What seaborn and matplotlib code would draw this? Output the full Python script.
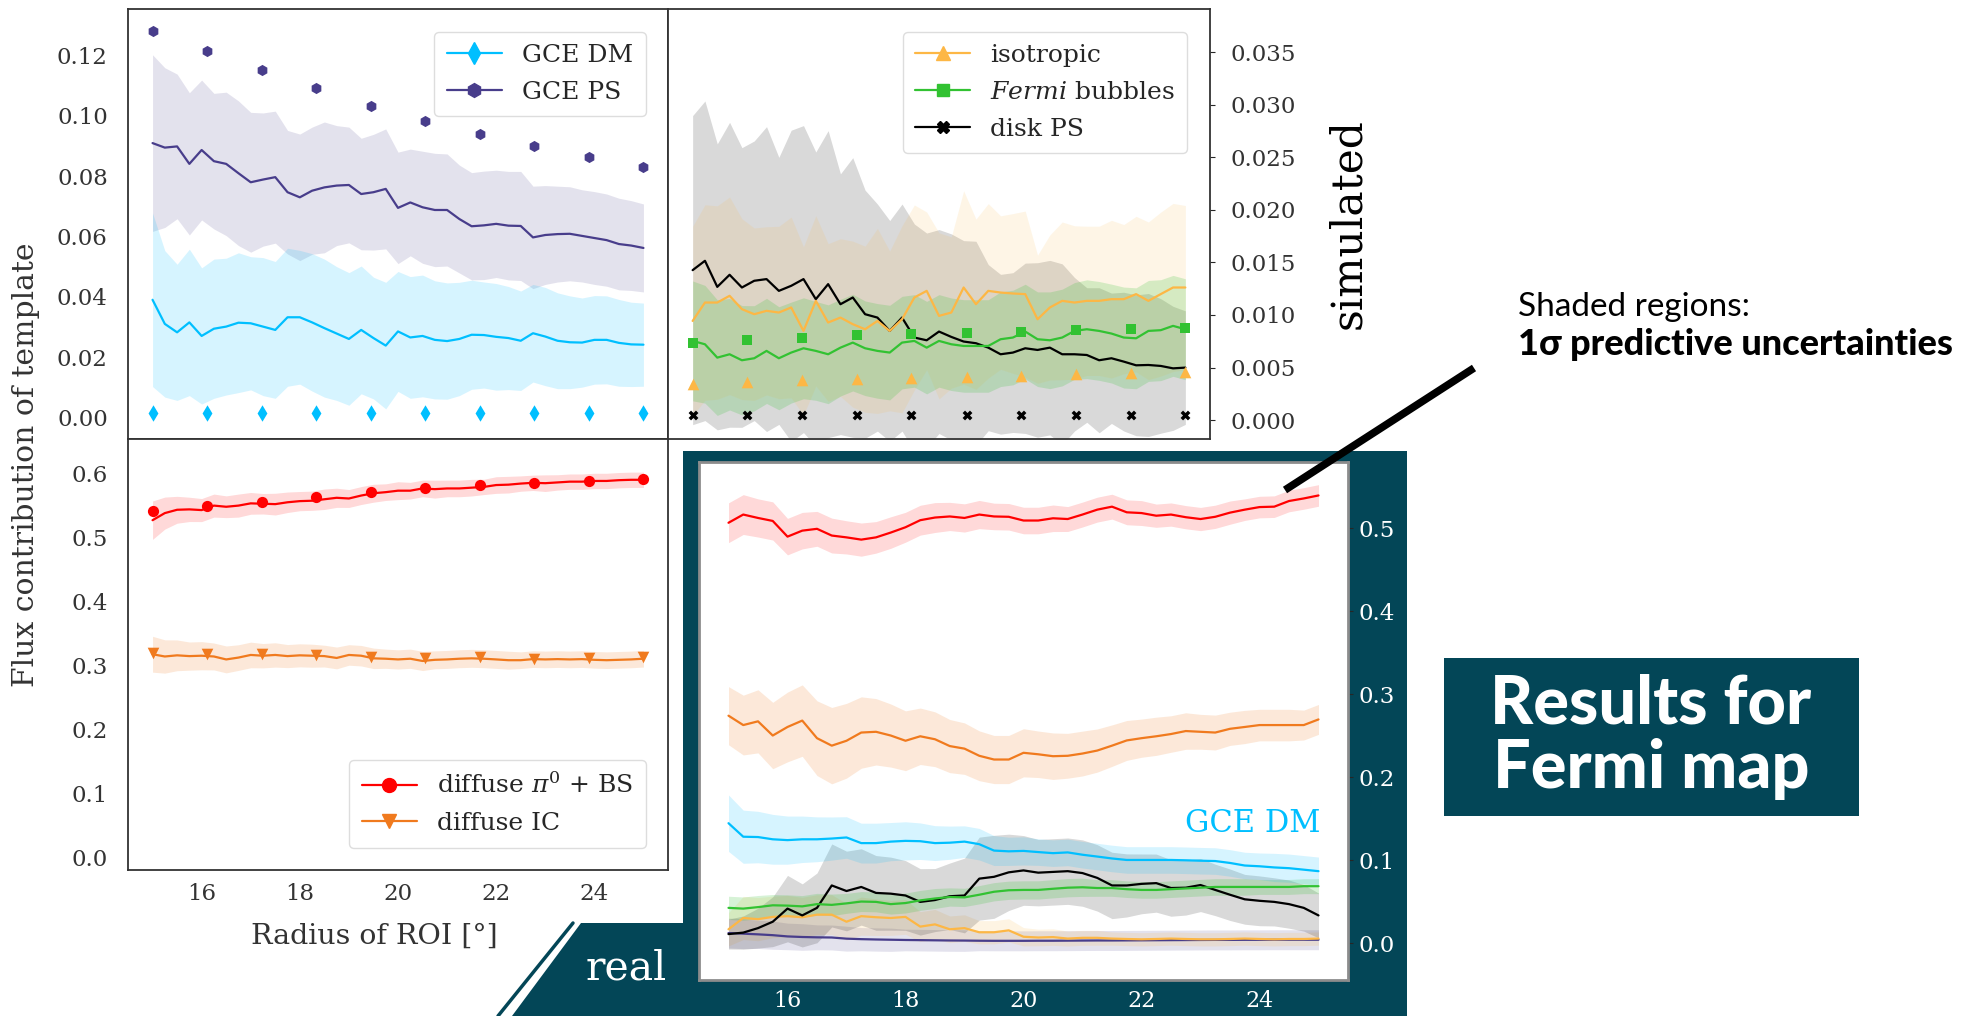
import matplotlib
matplotlib.use("Agg")
import matplotlib.pyplot as plt
import numpy as np
import seaborn as sns
from matplotlib.lines import Line2D
from matplotlib.patches import Polygon, Rectangle
from matplotlib.ticker import FormatStrFormatter

# ---------------------------------------------------------------- data
radius = [15.0, 15.25, 15.5, 15.75, 16.0, 16.25, 16.5, 16.75, 17.0, 17.25,
          17.5, 17.75, 18.0, 18.25, 18.5, 18.75, 19.0, 19.25, 19.5, 19.75,
          20.0, 20.25, 20.5, 20.75, 21.0, 21.25, 21.5, 21.75, 22.0, 22.25,
          22.5, 22.75, 23.0, 23.25, 23.5, 23.75, 24.0, 24.25, 24.5, 24.75, 25.0]
radius_true = [15.0, 16.11, 17.22, 18.33, 19.44, 20.56, 21.67, 22.78, 23.89, 25.0]

# simulated map: true values (markers)
true_dm = [0.0014, 0.0014, 0.0014, 0.0014, 0.0014, 0.0014, 0.0014, 0.0014, 0.0014, 0.0014]
true_ps = [0.1282, 0.1217, 0.1153, 0.1094, 0.1033, 0.0982, 0.0939, 0.0900, 0.0865, 0.0831]
true_iso = [0.00346, 0.00365, 0.00381, 0.00391, 0.00403, 0.00413, 0.00422, 0.00435, 0.00445, 0.00457]
true_fb = [0.00731, 0.00759, 0.00785, 0.0081, 0.00823, 0.00832, 0.00842, 0.00858, 0.0087, 0.0088]
true_disk = [0.00044, 0.00044, 0.00044, 0.00044, 0.00044, 0.00044, 0.00044, 0.00044, 0.00044, 0.00044]
true_pi0 = [0.541, 0.549, 0.555, 0.563, 0.572, 0.578, 0.582, 0.586, 0.589, 0.591]
true_ic = [0.320, 0.319, 0.318, 0.316, 0.313, 0.312, 0.313, 0.311, 0.312, 0.313]

# simulated map: predictions (mean, 1 sigma)
sim_dm_mean = [0.0390, 0.0310, 0.0282, 0.0315, 0.0270, 0.0294, 0.0301, 0.0314, 0.0312, 0.0301,
               0.0290, 0.0332, 0.0332, 0.0315, 0.0296, 0.0278, 0.0260, 0.0290, 0.0263, 0.0238,
               0.0285, 0.0265, 0.0270, 0.0257, 0.0253, 0.0260, 0.0274, 0.0273, 0.0267, 0.0263,
               0.0254, 0.0279, 0.0268, 0.0254, 0.0249, 0.0248, 0.0257, 0.0257, 0.0247, 0.0242, 0.0241]
sim_dm_sd = [0.0288, 0.0243, 0.0226, 0.0243, 0.0226, 0.0231, 0.0227, 0.0232, 0.0221, 0.0229,
             0.0227, 0.0229, 0.0222, 0.0228, 0.0229, 0.0222, 0.0220, 0.0212, 0.0202, 0.0210,
             0.0199, 0.0202, 0.0202, 0.0196, 0.0193, 0.0188, 0.0181, 0.0176, 0.0177, 0.0171,
             0.0165, 0.0162, 0.0163, 0.0159, 0.0154, 0.0148, 0.0147, 0.0146, 0.0144, 0.0140, 0.0138]
sim_ps_mean = [0.0910, 0.0895, 0.0899, 0.0841, 0.0887, 0.0850, 0.0841, 0.0810, 0.0780, 0.0789,
               0.0797, 0.0747, 0.0730, 0.0752, 0.0763, 0.0769, 0.0771, 0.0741, 0.0747, 0.0758,
               0.0695, 0.0713, 0.0697, 0.0688, 0.0688, 0.0658, 0.0634, 0.0637, 0.0642, 0.0636,
               0.0635, 0.0597, 0.0605, 0.0608, 0.0609, 0.0602, 0.0595, 0.0588, 0.0575, 0.0570, 0.0562]
sim_ps_sd = [0.0293, 0.0265, 0.0240, 0.0236, 0.0232, 0.0225, 0.0238, 0.0240, 0.0232, 0.0221,
             0.0219, 0.0205, 0.0210, 0.0211, 0.0217, 0.0199, 0.0192, 0.0185, 0.0192, 0.0199,
             0.0185, 0.0177, 0.0186, 0.0188, 0.0186, 0.0179, 0.0178, 0.0180, 0.0178, 0.0180,
             0.0181, 0.0170, 0.0164, 0.0159, 0.0156, 0.0153, 0.0154, 0.0153, 0.0152, 0.0149, 0.0146]
sim_iso_mean = [0.00943, 0.01118, 0.01118, 0.01182, 0.01055, 0.01007, 0.01039, 0.01023, 0.01071, 0.00848,
                0.01134, 0.00928, 0.00975, 0.00912, 0.00864, 0.00943, 0.00848, 0.00959, 0.01166, 0.01229,
                0.00991, 0.01023, 0.01261, 0.01102, 0.01229, 0.01213, 0.01204, 0.01198, 0.00959, 0.01071,
                0.01134, 0.01118, 0.01134, 0.01134, 0.01150, 0.01150, 0.01198, 0.01134, 0.01198, 0.01261, 0.01261]
sim_iso_sd = [0.0090, 0.0093, 0.0092, 0.0094, 0.0086, 0.0082, 0.0080, 0.0082, 0.0086, 0.0080,
              0.0081, 0.0075, 0.0075, 0.0079, 0.0079, 0.0088, 0.0076, 0.0089, 0.0088, 0.0075,
              0.0079, 0.0072, 0.0092, 0.0081, 0.0083, 0.0073, 0.0076, 0.0079, 0.0061, 0.0069,
              0.0075, 0.0073, 0.0071, 0.0071, 0.0075, 0.0071, 0.0074, 0.0075, 0.0078, 0.0080, 0.0078]
sim_fb_mean = [0.00753, 0.00721, 0.00594, 0.00626, 0.00569, 0.00588, 0.00658, 0.00588, 0.00642, 0.00683,
               0.00658, 0.00626, 0.00689, 0.00737, 0.00683, 0.00658, 0.00642, 0.00737, 0.00753, 0.00689,
               0.00753, 0.00721, 0.00705, 0.00705, 0.00705, 0.00769, 0.00785, 0.00842, 0.00769, 0.00759,
               0.00785, 0.00848, 0.00864, 0.00848, 0.00823, 0.00785, 0.00778, 0.00848, 0.00855, 0.00896, 0.00864]
sim_fb_sd = [0.0057, 0.0056, 0.0055, 0.0053, 0.0052, 0.0050, 0.0050, 0.0049, 0.0048, 0.0048,
             0.0047, 0.0047, 0.0046, 0.0046, 0.0045, 0.0045, 0.0045, 0.0044, 0.0044, 0.0044,
             0.0044, 0.0044, 0.0044, 0.0044, 0.0044, 0.0045, 0.0045, 0.0045, 0.0045, 0.0046,
             0.0046, 0.0046, 0.0047, 0.0047, 0.0047, 0.0048, 0.0048, 0.0048, 0.0048, 0.0048, 0.0048]
sim_disk_mean = [0.01426, 0.01515, 0.01267, 0.01382, 0.01261, 0.01325, 0.01341, 0.01229, 0.01277, 0.01341,
                 0.01150, 0.01293, 0.01102, 0.01166, 0.01007, 0.00975, 0.00848, 0.00975, 0.00785, 0.00759,
                 0.00842, 0.00791, 0.00747, 0.00731, 0.00689, 0.00626, 0.00642, 0.00683, 0.00667, 0.00689,
                 0.00626, 0.00626, 0.00619, 0.00569, 0.00588, 0.00556, 0.00521, 0.00524, 0.00515, 0.00492, 0.00499]
sim_disk_sd = [0.0147, 0.0152, 0.0136, 0.0145, 0.0133, 0.0133, 0.0145, 0.0127, 0.0148, 0.0146,
               0.0140, 0.0146, 0.0124, 0.0133, 0.0118, 0.0108, 0.0105, 0.0108, 0.0108, 0.0102,
               0.0097, 0.0098, 0.0096, 0.0097, 0.0079, 0.0076, 0.0076, 0.0081, 0.0083, 0.0083,
               0.0086, 0.0073, 0.0064, 0.0069, 0.0062, 0.0066, 0.0067, 0.0068, 0.0064, 0.0059, 0.0054]
sim_pi0_mean = [0.5272, 0.5383, 0.5435, 0.5441, 0.5430, 0.5500, 0.5482, 0.5500, 0.5535, 0.5529,
                0.5523, 0.5552, 0.5570, 0.5576, 0.5599, 0.5622, 0.5611, 0.5657, 0.5693, 0.5710,
                0.5733, 0.5733, 0.5768, 0.5757, 0.5768, 0.5768, 0.5780, 0.5792, 0.5821, 0.5827,
                0.5844, 0.5856, 0.5850, 0.5862, 0.5874, 0.5874, 0.5885, 0.5885, 0.5897, 0.5903, 0.5903]
sim_pi0_sd = [0.030, 0.025, 0.021, 0.019, 0.018, 0.018, 0.017, 0.018, 0.017, 0.016,
              0.017, 0.016, 0.015, 0.015, 0.016, 0.015, 0.014, 0.014, 0.014, 0.013,
              0.014, 0.013, 0.013, 0.014, 0.013, 0.013, 0.013, 0.012, 0.013, 0.013,
              0.012, 0.012, 0.013, 0.012, 0.012, 0.012, 0.012, 0.012, 0.012, 0.012, 0.012]
sim_ic_mean = [0.3179, 0.3144, 0.3162, 0.3150, 0.3156, 0.3144, 0.3098, 0.3127, 0.3168, 0.3156,
               0.3168, 0.3150, 0.3162, 0.3156, 0.3150, 0.3121, 0.3168, 0.3156, 0.3115, 0.3109,
               0.3098, 0.3109, 0.3074, 0.3092, 0.3098, 0.3109, 0.3115, 0.3109, 0.3098, 0.3086,
               0.3086, 0.3103, 0.3098, 0.3103, 0.3098, 0.3103, 0.3092, 0.3086, 0.3092, 0.3098, 0.3109]
sim_ic_sd = [0.028, 0.026, 0.024, 0.022, 0.022, 0.021, 0.021, 0.020, 0.020, 0.019,
             0.019, 0.018, 0.018, 0.018, 0.017, 0.017, 0.016, 0.016, 0.016, 0.015,
             0.015, 0.015, 0.015, 0.014, 0.014, 0.014, 0.014, 0.014, 0.014, 0.014,
             0.013, 0.013, 0.013, 0.013, 0.013, 0.013, 0.013, 0.013, 0.013, 0.013, 0.013]

# real Fermi map: predictions (mean, 1 sigma)
real_pi0_mean = [0.5068, 0.5167, 0.5126, 0.5090, 0.4901, 0.4973, 0.4995, 0.4914, 0.4892, 0.4865,
                 0.4892, 0.4950, 0.5014, 0.5099, 0.5131, 0.5144, 0.5126, 0.5167, 0.5144, 0.5140,
                 0.5095, 0.5095, 0.5122, 0.5113, 0.5167, 0.5226, 0.5262, 0.5194, 0.5185, 0.5153,
                 0.5167, 0.5135, 0.5113, 0.5140, 0.5190, 0.5226, 0.5257, 0.5262, 0.5330, 0.5361, 0.5397]
real_pi0_sd = [0.024, 0.024, 0.023, 0.023, 0.022, 0.022, 0.021, 0.021, 0.020, 0.020,
               0.019, 0.019, 0.018, 0.018, 0.018, 0.017, 0.017, 0.017, 0.016, 0.016,
               0.016, 0.016, 0.016, 0.015, 0.015, 0.015, 0.015, 0.015, 0.015, 0.014,
               0.014, 0.014, 0.014, 0.014, 0.014, 0.013, 0.013, 0.013, 0.013, 0.013, 0.013]
real_ic_mean = [0.2744, 0.2631, 0.2676, 0.2505, 0.2608, 0.2685, 0.2473, 0.2383, 0.2442, 0.2541,
                0.2550, 0.2505, 0.2442, 0.2496, 0.2460, 0.2378, 0.2347, 0.2261, 0.2216, 0.2216,
                0.2297, 0.2279, 0.2256, 0.2261, 0.2288, 0.2324, 0.2383, 0.2446, 0.2473, 0.2496,
                0.2523, 0.2559, 0.2550, 0.2541, 0.2586, 0.2608, 0.2631, 0.2631, 0.2631, 0.2631, 0.2699]
real_ic_sd = [0.035, 0.036, 0.038, 0.040, 0.042, 0.043, 0.045, 0.046, 0.045, 0.043,
              0.040, 0.038, 0.036, 0.034, 0.033, 0.032, 0.031, 0.030, 0.029, 0.029,
              0.029, 0.028, 0.028, 0.027, 0.027, 0.026, 0.025, 0.024, 0.023, 0.023,
              0.022, 0.022, 0.021, 0.021, 0.020, 0.020, 0.019, 0.019, 0.019, 0.018, 0.018]
real_dm_mean = [0.1449, 0.1286, 0.1282, 0.1255, 0.1245, 0.1255, 0.1255, 0.1264, 0.1277, 0.1209,
                0.1209, 0.1227, 0.1236, 0.1232, 0.1209, 0.1214, 0.1227, 0.1196, 0.1119, 0.1110,
                0.1115, 0.1101, 0.1088, 0.1097, 0.1069, 0.1047, 0.1024, 0.1006, 0.1006, 0.1006,
                0.1006, 0.1002, 0.0997, 0.0993, 0.0970, 0.0939, 0.0930, 0.0916, 0.0907, 0.0889, 0.0871]
real_dm_sd = [0.034, 0.032, 0.031, 0.030, 0.029, 0.028, 0.027, 0.026, 0.025, 0.024,
              0.024, 0.023, 0.023, 0.022, 0.021, 0.020, 0.019, 0.019, 0.018, 0.017,
              0.017, 0.016, 0.016, 0.016, 0.016, 0.016, 0.016, 0.016, 0.016, 0.016,
              0.016, 0.016, 0.016, 0.016, 0.016, 0.016, 0.016, 0.017, 0.017, 0.017, 0.017]
real_ps_mean = [0.0126, 0.0118, 0.0110, 0.0100, 0.0085, 0.0078, 0.0074, 0.0072, 0.0058, 0.0052,
                0.0048, 0.0045, 0.0042, 0.0040, 0.0038, 0.0036, 0.0035, 0.0033, 0.0032, 0.0032,
                0.0032, 0.0033, 0.0033, 0.0034, 0.0035, 0.0036, 0.0036, 0.0037, 0.0038, 0.0039,
                0.0040, 0.0041, 0.0042, 0.0043, 0.0043, 0.0044, 0.0044, 0.0045, 0.0045, 0.0045, 0.0045]
real_ps_sd = [0.018, 0.018, 0.017, 0.017, 0.016, 0.016, 0.015, 0.015, 0.015, 0.014,
              0.014, 0.014, 0.013, 0.013, 0.013, 0.013, 0.013, 0.012, 0.012, 0.012,
              0.012, 0.012, 0.012, 0.012, 0.012, 0.012, 0.012, 0.012, 0.012, 0.012,
              0.012, 0.012, 0.012, 0.012, 0.012, 0.012, 0.012, 0.012, 0.012, 0.012, 0.012]
real_iso_mean = [0.0171, 0.0307, 0.0293, 0.0320, 0.0329, 0.0316, 0.0347, 0.0347, 0.0262, 0.0329,
                 0.0316, 0.0307, 0.0320, 0.0203, 0.0230, 0.0171, 0.0185, 0.0135, 0.0135, 0.0158,
                 0.0081, 0.0072, 0.0077, 0.0059, 0.0068, 0.0068, 0.0059, 0.0054, 0.0050, 0.0054,
                 0.0059, 0.0054, 0.0050, 0.0050, 0.0054, 0.0059, 0.0054, 0.0050, 0.0054, 0.0054, 0.0059]
real_iso_sd = [0.020, 0.026, 0.026, 0.025, 0.025, 0.024, 0.024, 0.024, 0.022, 0.023,
               0.022, 0.021, 0.021, 0.018, 0.018, 0.016, 0.016, 0.014, 0.014, 0.014,
               0.011, 0.010, 0.010, 0.009, 0.009, 0.009, 0.008, 0.008, 0.008, 0.008,
               0.008, 0.008, 0.008, 0.008, 0.008, 0.008, 0.008, 0.008, 0.008, 0.008, 0.008]
real_fb_mean = [0.0429, 0.0420, 0.0438, 0.0460, 0.0456, 0.0447, 0.0474, 0.0465, 0.0483, 0.0505,
                0.0501, 0.0474, 0.0487, 0.0519, 0.0542, 0.0560, 0.0555, 0.0587, 0.0623, 0.0641,
                0.0645, 0.0645, 0.0659, 0.0672, 0.0677, 0.0668, 0.0668, 0.0654, 0.0645, 0.0645,
                0.0654, 0.0663, 0.0672, 0.0681, 0.0681, 0.0681, 0.0681, 0.0681, 0.0681, 0.0690, 0.0690]
real_fb_sd = [0.014, 0.014, 0.014, 0.013, 0.013, 0.013, 0.013, 0.013, 0.012, 0.012,
              0.012, 0.012, 0.012, 0.012, 0.012, 0.011, 0.011, 0.011, 0.011, 0.011,
              0.011, 0.011, 0.011, 0.011, 0.011, 0.010, 0.010, 0.010, 0.010, 0.010,
              0.010, 0.010, 0.010, 0.010, 0.010, 0.010, 0.009, 0.009, 0.009, 0.009, 0.009]
real_disk_mean = [0.0113, 0.0131, 0.0185, 0.0262, 0.0420, 0.0338, 0.0429, 0.0699, 0.0632, 0.0681,
                  0.0609, 0.0600, 0.0578, 0.0501, 0.0523, 0.0569, 0.0578, 0.0781, 0.0803, 0.0857,
                  0.0880, 0.0853, 0.0862, 0.0871, 0.0848, 0.0790, 0.0699, 0.0699, 0.0718, 0.0727,
                  0.0668, 0.0672, 0.0704, 0.0645, 0.0587, 0.0532, 0.0514, 0.0501, 0.0474, 0.0429, 0.0338]
real_disk_sd = [0.018, 0.020, 0.024, 0.030, 0.040, 0.038, 0.042, 0.050, 0.048, 0.046,
                0.045, 0.044, 0.042, 0.040, 0.038, 0.040, 0.045, 0.050, 0.050, 0.046,
                0.042, 0.040, 0.040, 0.040, 0.040, 0.040, 0.040, 0.038, 0.036, 0.035,
                0.034, 0.033, 0.032, 0.031, 0.031, 0.030, 0.030, 0.029, 0.029, 0.028, 0.027]

C_DM = "#00bfff"
C_PS = "#483d8b"
C_ISO = "#fdb745"
C_FB = "#32c232"
C_DISK = "black"
C_PI0 = "red"
C_IC = "#f07a1e"
TEAL = "#034657"

W, H = 1983, 1016


def fx(px):
    return px / W


def fy(py):
    return 1 - py / H


def draw_series(ax, mean, sd, color, alpha=0.17, lw=1.6):
    mean = np.asarray(mean)
    sd = np.asarray(sd)
    ax.fill_between(radius, mean - sd, mean + sd, color=color, alpha=alpha, lw=0)
    sns.lineplot(x=radius, y=mean, ax=ax, color=color, lw=lw, legend=False)


def draw_truth(ax, values, color, marker, size):
    sns.scatterplot(x=radius_true, y=values, ax=ax, color=color, marker=marker,
                    s=size, linewidth=0, legend=False, zorder=5)


def handle(color, marker, ms):
    return Line2D([], [], color=color, marker=marker, markersize=ms, lw=1.6)


sns.set_style("white")
plt.rcParams["font.family"] = ["DejaVu Serif"]
plt.rcParams["mathtext.fontset"] = "dejavuserif"
plt.rcParams["axes.edgecolor"] = "#333333"
plt.rcParams["axes.linewidth"] = 1.3

fig = plt.figure(figsize=(W / 100, H / 100), dpi=100)

tick_fs = 16.5
leg_fs = 18
label_color = "#333333"
leg_kw = dict(fontsize=leg_fs, handlelength=2.2, borderpad=0.5, labelspacing=0.55,
              borderaxespad=0.9, framealpha=1, edgecolor="#dddddd")

# ---- top left: GCE templates (simulated)
ax_gce = fig.add_axes([fx(128), fy(439), fx(668) - fx(128), fy(9) - fy(439)])
draw_series(ax_gce, sim_ps_mean, sim_ps_sd, C_PS, alpha=0.15)
draw_series(ax_gce, sim_dm_mean, sim_dm_sd, C_DM, alpha=0.16)
draw_truth(ax_gce, true_dm, C_DM, "d", 70)
draw_truth(ax_gce, true_ps, C_PS, "h", 65)
ax_gce.set_xlim(14.5, 25.5)
ax_gce.set_ylim(-0.0072, 0.1355)
ax_gce.set_yticks([0.0, 0.02, 0.04, 0.06, 0.08, 0.10, 0.12])
ax_gce.yaxis.set_major_formatter(FormatStrFormatter("%.2f"))
ax_gce.set_xticks([])
ax_gce.legend([handle(C_DM, "d", 11), handle(C_PS, "h", 10)], ["GCE DM", "GCE PS"],
              loc="upper right", **leg_kw)

# ---- top right: isotropic, bubbles, disk PS (simulated)
ax_oth = fig.add_axes([fx(668), fy(439), fx(1210) - fx(668), fy(9) - fy(439)])
draw_series(ax_oth, sim_disk_mean, sim_disk_sd, C_DISK, alpha=0.15)
draw_series(ax_oth, sim_iso_mean, sim_iso_sd, C_ISO, alpha=0.13)
draw_series(ax_oth, sim_fb_mean, sim_fb_sd, C_FB, alpha=0.2)
draw_truth(ax_oth, true_iso, C_ISO, "^", 70)
draw_truth(ax_oth, true_fb, C_FB, "s", 55)
draw_truth(ax_oth, true_disk, C_DISK, "X", 50)
ax_oth.set_xlim(14.5, 25.5)
ax_oth.set_ylim(-0.0018, 0.0391)
ax_oth.yaxis.tick_right()
ax_oth.set_yticks([0.0, 0.005, 0.01, 0.015, 0.02, 0.025, 0.03, 0.035])
ax_oth.yaxis.set_major_formatter(FormatStrFormatter("%.3f"))
ax_oth.set_xticks([])
ax_oth.legend([handle(C_ISO, "^", 10), handle(C_FB, "s", 9), handle(C_DISK, "X", 9)],
              ["isotropic", r"$\mathit{Fermi}$ bubbles", "disk PS"],
              loc="upper right", **leg_kw)

# ---- bottom left: diffuse templates (simulated)
ax_dif = fig.add_axes([fx(128), fy(870), fx(668) - fx(128), fy(439) - fy(870)])
draw_series(ax_dif, sim_pi0_mean, sim_pi0_sd, C_PI0, alpha=0.15)
draw_series(ax_dif, sim_ic_mean, sim_ic_sd, C_IC, alpha=0.17)
draw_truth(ax_dif, true_pi0, C_PI0, "o", 65)
draw_truth(ax_dif, true_ic, C_IC, "v", 70)
ax_dif.set_xlim(14.5, 25.5)
ax_dif.set_ylim(-0.019, 0.654)
ax_dif.set_yticks([0.0, 0.1, 0.2, 0.3, 0.4, 0.5, 0.6])
ax_dif.yaxis.set_major_formatter(FormatStrFormatter("%.1f"))
ax_dif.set_xticks([16, 18, 20, 22, 24])
ax_dif.legend([handle(C_PI0, "o", 10), handle(C_IC, "v", 10)],
              [r"diffuse $\pi^0$ + BS", "diffuse IC"],
              loc="lower right", **leg_kw)

for ax in (ax_gce, ax_oth, ax_dif):
    ax.tick_params(axis="y", labelsize=tick_fs, labelcolor=label_color, pad=11)
    ax.tick_params(axis="x", labelsize=tick_fs, labelcolor=label_color, pad=6)

# ---- real Fermi map panel on a teal backdrop
backdrop = Polygon([(fx(683), fy(451)), (fx(1407), fy(451)), (fx(1407), fy(1016)),
                    (fx(512), fy(1016)), (fx(581), fy(923)), (fx(683), fy(923))],
                   closed=True, facecolor=TEAL, edgecolor="none",
                   transform=fig.transFigure, zorder=-10)
fig.patches.append(backdrop)
fig.lines.append(Line2D([fx(498), fx(573)], [fy(1016), fy(923)], color=TEAL, lw=2.5,
                        transform=fig.transFigure, zorder=-10))

ax_real = fig.add_axes([fx(699), fy(980), fx(1348) - fx(699), fy(462) - fy(980)])
ax_real.set_facecolor("white")
draw_series(ax_real, real_ps_mean, real_ps_sd, C_PS, alpha=0.15)
draw_series(ax_real, real_iso_mean, real_iso_sd, C_ISO, alpha=0.15)
draw_series(ax_real, real_disk_mean, real_disk_sd, C_DISK, alpha=0.15)
draw_series(ax_real, real_fb_mean, real_fb_sd, C_FB, alpha=0.2)
draw_series(ax_real, real_dm_mean, real_dm_sd, C_DM, alpha=0.16)
draw_series(ax_real, real_ic_mean, real_ic_sd, C_IC, alpha=0.17)
draw_series(ax_real, real_pi0_mean, real_pi0_sd, C_PI0, alpha=0.15)
ax_real.set_xlim(14.5, 25.5)
ax_real.set_ylim(-0.044, 0.580)
ax_real.yaxis.tick_right()
ax_real.set_yticks([0.0, 0.1, 0.2, 0.3, 0.4, 0.5])
ax_real.yaxis.set_major_formatter(FormatStrFormatter("%.1f"))
ax_real.set_xticks([16, 18, 20, 22, 24])
ax_real.tick_params(axis="y", labelsize=16.5, labelcolor="white", pad=4)
ax_real.tick_params(axis="x", labelsize=16, labelcolor="white", pad=4)
for sp in ax_real.spines.values():
    sp.set_color("#8c8c8c")
    sp.set_linewidth(2)
ax_real.text(25.03, 0.144, "GCE DM", color=C_DM, fontsize=22, ha="right", va="center")

# ---- figure-level labels and annotations
fig.text(fx(374), fy(936), "Radius of ROI [°]", fontsize=20.5, ha="center", va="center",
         color=label_color)
fig.text(fx(26), fy(465), "Flux contribution of template", rotation=90, fontsize=21.5,
         ha="center", va="center", color=label_color)
fig.text(fx(1348), fy(224), "simulated", rotation=90, fontsize=30.5,
         ha="center", va="center", color="black")
fig.text(fx(626), fy(968), "real", fontsize=29.5, ha="center", va="center", color="white")

fig.lines.append(Line2D([fx(1474), fx(1285)], [fy(368), fy(490)], color="black", lw=5.5,
                        solid_capstyle="butt", transform=fig.transFigure, zorder=20))
fig.text(fx(1518), fy(307), "Shaded regions:", fontsize=24, family=["Lato", "DejaVu Sans"],
         ha="left", va="center", color="black")
fig.text(fx(1518), fy(344), "1σ predictive uncertainties", fontsize=26, weight="black",
         family=["Lato", "DejaVu Sans"], ha="left", va="center", color="black")

fig.patches.append(Rectangle((fx(1444), fy(816)), fx(1859) - fx(1444), fy(658) - fy(816),
                             facecolor=TEAL, edgecolor="none", transform=fig.transFigure,
                             zorder=-10))
fig.text(fx(1651), fy(737), "Results for\nFermi map", fontsize=48, weight="black",
         family=["Lato", "DejaVu Sans"], ha="center", va="center", color="white",
         linespacing=1.05)

fig.savefig("out.png", dpi=100)
